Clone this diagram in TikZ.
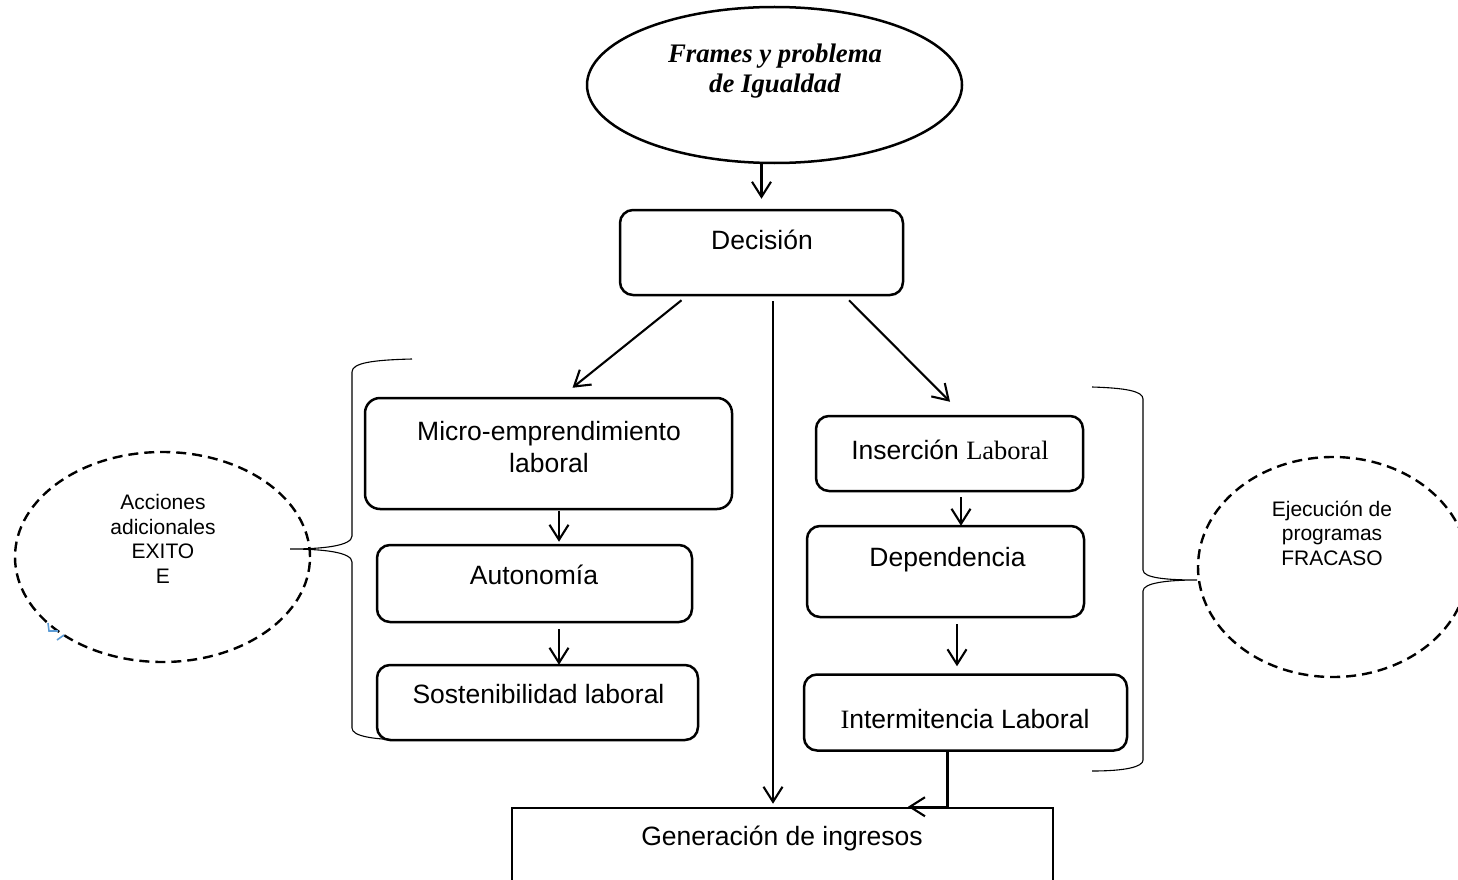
\documentclass[tikz,border=0pt]{standalone}
\usepackage{fontspec}
\setmainfont{Liberation Sans}
\newfontfamily\serifrm{Liberation Serif}
\usetikzlibrary{shapes.geometric,arrows.meta,calc}

\begin{document}
\begin{tikzpicture}[x=1pt,y=-1pt,
  box/.style={draw, line width=2.5pt, rounded corners=13pt, inner sep=0pt},
  plainbox/.style={draw, line width=2.5pt, inner sep=0pt},
  oval/.style={draw, ellipse, line width=2.5pt, inner sep=0pt},
  cloud/.style={draw, ellipse, line width=2.4pt, dash pattern=on 10pt off 6pt, inner sep=0pt},
  txt/.style={inner sep=0pt, anchor=base, align=center, font=\fontsize{26.5pt}{32pt}\selectfont},
  smalltxt/.style={inner sep=0pt, anchor=base, align=center, font=\fontsize{21pt}{24.5pt}\selectfont},
  titletxt/.style={inner sep=0pt, anchor=base, align=center, font=\serifrm\bfseries\itshape\fontsize{26.75pt}{30pt}\selectfont},
  link/.style={line width=2.1pt, -{Straight Barb[length=15pt,width=19pt]}},
  bracket/.style={line width=1.1pt},
]
\useasboundingbox (0,0) rectangle (1458,880);

% shapes
\node[oval, minimum width=375pt, minimum height=156pt] (frame) at (774.5,85) {};
\node[box, minimum width=283pt, minimum height=85pt] (dec) at (761.5,252.5) {};
\node[box, rounded corners=15pt, minimum width=367pt, minimum height=111pt] (micro) at (548.5,453.5) {};
\node[box, minimum width=315pt, minimum height=77pt] (auto) at (534.5,583.5) {};
\node[box, minimum width=321pt, minimum height=75pt] (sost) at (537.5,702.5) {};
\node[box, minimum width=267pt, minimum height=75pt] (inser) at (949.5,453.5) {};
\node[box, minimum width=277pt, minimum height=91pt] (dep) at (945.5,571.5) {};
\node[box, minimum width=323pt, minimum height=76pt] (inter) at (965.5,712.5) {};
\node[plainbox, minimum width=541pt, minimum height=100pt] (gen) at (782.5,858) {};
\node[cloud, minimum width=295pt, minimum height=210pt] (exito) at (162.5,557) {};
\node[cloud, minimum width=270pt, minimum height=220pt] (fracaso) at (1333,567) {};

% texts (base anchor of a multi-line node sits on its last line)
\node[titletxt] (frameT) at (775,93) {Frames y problema\\de Igualdad};
\node[txt] (decT) at (762,249) {Decisión};
\node[txt] (microT) at (549,472) {Micro-emprendimiento\\laboral};
\node[txt] (autoT) at (534,584) {Autonomía};
\node[txt] (sostT) at (538.5,703) {Sostenibilidad laboral};
\node[txt] (inserT) at (950,459) {Inserción {\serifrm Laboral}};
\node[txt] (depT) at (947.5,566) {Dependencia};
\node[txt] (interT) at (965,728) {{\serifrm I}ntermitencia Laboral};
\node[txt] (genT) at (782,845) {Generación de ingresos};
\node[smalltxt] (exitoT) at (163,583) {Acciones\\adicionales\\EXITO\\E};
\node[smalltxt] (fracasoT) at (1332,565) {Ejecución de\\programas\\FRACASO};

% connectors
\draw[link] (frame.south -| dec.north) -- ($(dec.north)+(0,-10)$);
\draw[link] ($(dec.south)+(-80,4)$) -- ($(micro.north)+(24,-9)$);
\draw[link] ($(dec.south)+(11.5,5)$) -- ($(gen.north)+(-9.5,-3)$);
\draw[link] ($(dec.south)+(87.5,4)$) -- ($(inser.north)+(0.5,-13)$);
\draw[link] ($(micro.south)+(10.5,1)$) -- ($(auto.north)+(24.5,-2)$);
\draw[link] ($(auto.south)+(24.5,6)$) -- ($(sost.north)+(21.5,1)$);
\draw[link] ($(inser.south)+(11.5,5)$) -- ($(dep.north)+(15.5,1)$);
\draw[link] ($(dep.south)+(11.5,6)$) -- ($(inter.north)+(-8.5,-7)$);
\draw[link] ($(inter.south)+(-18,0)$) |- ($(gen.north)+(125.5,0)$);

% grouping brackets
\draw[bracket] (412,359) .. controls (372,360) and (352,363) .. (352,372)
  -- (352,536) .. controls (352,546) and (322,549) .. (290,549)
  .. controls (322,549) and (352,552) .. (352,562)
  -- (352,728) .. controls (352,736) and (372,740) .. (412,740);
\draw[bracket] (1092,387) .. controls (1125,388) and (1143,391) .. (1143,399)
  -- (1143,570) .. controls (1143,578) and (1167,580) .. (1197,580)
  .. controls (1167,580) and (1143,583) .. (1143,591)
  -- (1143,760) .. controls (1143,767) and (1125,771) .. (1092,771);

% small blue stroke near the left oval
\draw[line width=1.6pt, color={rgb,255:red,91;green,155;blue,213}]
  (48,623) -- (49,631) -- (58,631) (57,640) -- (64,635);
\end{tikzpicture}
\end{document}
